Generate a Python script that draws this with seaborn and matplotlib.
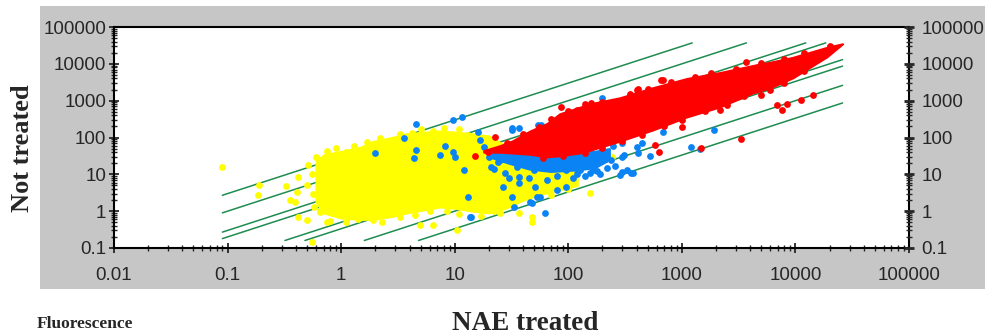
import numpy as np
import pandas as pd
import matplotlib
matplotlib.use("Agg")
import matplotlib.pyplot as plt
import seaborn as sns
from matplotlib.patches import Rectangle
from matplotlib.ticker import LogLocator, NullFormatter

# ---------------------------------------------------------------
# Data: fluorescence intensity, NAE treated (x) vs not treated (y)
# ---------------------------------------------------------------

# fold-change guide lines (not treated / NAE treated)
fold_levels = [30, 10, 3, 2, 1 / 2, 1 / 3, 1 / 10, 1 / 30]
guide_x_span = (0.09, 26000)
guide_y_span = (0.16, 37000)

# dense cores of the three intensity classes: x, lower y, upper y
yellow_core_x = [0.6, 0.7, 1.0, 1.5, 1.9, 2.8, 3.8, 5.5, 7.4, 10, 14.5, 20, 28, 40, 60, 90, 120]
yellow_core_lo = [1.8, 0.9, 0.65, 0.6, 0.6, 0.72, 0.9, 1.1, 1.3, 1.2, 1.0, 0.9, 1.2, 2, 3, 4, 5]
yellow_core_hi = [20, 34, 42, 55, 78, 100, 128, 140, 150, 140, 125, 110, 60, 30, 22, 15, 10]

blue_core_x = [20, 30, 45, 70, 110, 170, 230]
blue_core_lo = [30, 20, 14, 12, 13, 15, 25]
blue_core_hi = [45, 45, 40, 36, 38, 42, 50]

red_core_x = [18, 25, 32, 46, 65, 84, 126, 155, 285, 556, 1107, 2162, 4220, 5960, 9490, 18900, 26000]
red_core_lo = [40, 40, 38, 35, 30, 32, 38, 45, 80, 161, 363, 680, 1630, 2220, 4170, 15500, 35000]
red_core_hi = [44, 60, 80, 150, 240, 440, 660, 820, 1200, 2250, 4000, 5800, 9000, 11000, 15000, 28000, 35000]

# individual spots outside / along the edges of the dense cores
yellow_x = [0.089, 0.19, 0.185, 0.33, 0.355, 0.39, 0.42, 0.51, 0.62, 0.41, 0.42, 0.50, 0.55,
            48, 10.5, 4.9, 6.4, 2.7, 1.9, 19, 25, 37, 48, 155, 245, 0.75, 0.65,
            0.6, 0.75, 0.9, 1.1, 1.3, 1.7, 2.2, 2.6, 3.3, 4.2, 5, 6.5, 8, 11, 13, 16,
            0.65, 0.8, 1.1, 1.4, 2.3, 3.3, 4.5, 6, 8.5, 11, 17, 22, 30, 70, 100,
            0.55, 0.5, 0.57, 0.58]
yellow_y = [16, 5.2, 2.75, 4.8, 2.0, 1.8, 8.5, 18, 26, 3.3, 0.7, 0.58, 0.15,
            0.5, 0.31, 0.42, 0.42, 0.9, 0.58, 1.3, 0.9, 0.9, 0.7, 3.1, 30, 0.5, 1.0,
            30, 44, 52, 40, 60, 75, 95, 82, 125, 135, 165, 150, 180, 165, 118, 135,
            0.95, 0.55, 0.5, 0.62, 0.5, 0.68, 0.8, 1.0, 1.0, 0.85, 0.72, 1.0, 1.6, 2.8, 4,
            10, 5, 3, 1.3]

blue_x = [4.6, 3.6, 9.6, 11.5, 2.0, 4.6, 4.4, 7.4, 8.2, 9.6, 10, 16, 16.7, 18, 12, 13, 13.6,
          32, 37, 58, 200, 32, 54, 26.8, 32, 33, 56, 48, 62, 79, 96, 126, 155, 178, 240,
          300, 330, 285, 25, 37, 43, 89, 21, 30, 37, 51, 53, 14, 46, 73, 96, 165, 300, 360,
          680, 1900, 300, 310, 410, 520, 1200, 1450, 370, 250, 200, 400, 450,
          22, 28, 45, 65, 110, 140, 190, 260,
          20, 24, 35, 50, 80, 120, 180, 220, 28, 60, 150]
blue_y = [230, 100, 300, 363, 38, 46, 28, 34, 60, 40, 30, 141, 86, 55, 13, 2.4, 0.7,
          180, 180, 220, 1170, 161, 220, 4.5, 2.4, 1.3, 2.4, 1.7, 0.9, 3.7, 4.5, 13, 11, 20, 25,
          30, 13, 9.6, 25, 8.5, 20, 20, 16, 8.0, 5.8, 4.5, 2.4, 0.7, 1.8, 20, 13, 13, 11.6, 11,
          140, 161, 71, 34, 38, 32, 55, 49, 11, 60, 45, 55, 70,
          14, 11, 8, 7, 8, 9, 10, 17,
          30, 22, 16, 13, 9, 10, 12, 15, 35, 28, 30]

red_x = [87, 120, 160, 410, 15, 19.5, 29, 22.5, 3700, 660, 580, 400, 1000, 2160, 3300,
         1460, 630, 580, 5000, 6900, 7600, 8400, 11300, 14400, 685,
         40, 55, 70, 100, 140, 200, 350, 500, 800, 1300, 1800, 3000, 5000, 8000, 12000, 20000,
         60, 90, 140, 200, 300, 450, 700, 1000, 1600, 2500, 3500, 6000, 8000, 12000]
red_y = [690, 560, 860, 2100, 31, 40, 71, 102, 11300, 3700, 1700, 1950, 190, 560, 90,
         52, 40, 63, 1430, 770, 560, 815, 1050, 1430, 3700,
         125, 190, 320, 520, 820, 900, 1550, 2100, 3300, 4400, 5600, 7300, 10800, 13500, 20000, 30000,
         27, 31, 38, 52, 78, 115, 210, 290, 520, 780, 1350, 1950, 3100, 6200]

x_ticks = [0.01, 0.1, 1, 10, 100, 1000, 10000, 100000]
x_tick_labels = ["0.01", "0.1", "1", "10", "100", "1000", "10000", "100000"]
y_ticks = [0.1, 1, 10, 100, 1000, 10000, 100000]
y_tick_labels = ["0.1", "1", "10", "100", "1000", "10000", "100000"]

# ---------------------------------------------------------------
# Styling
# ---------------------------------------------------------------
sns.set_style("white")
plt.rcParams["font.family"] = ["Liberation Sans", "DejaVu Sans"]

YELLOW = "#ffff00"
BLUE = "#0a84f5"
RED = "#ff0000"
GREEN = "#1e8c50"
PANEL = "#c6c6c6"

W, H = 985, 335
fig = plt.figure(figsize=(W / 100, H / 100), dpi=100)
fig.patch.set_facecolor("white")

# grey chart panel behind the plotting area
fig.add_artist(Rectangle((40 / W, 1 - 289 / H), 1 - 40 / W, (289 - 6) / H,
                         transform=fig.transFigure, facecolor=PANEL,
                         edgecolor="none", zorder=0))

ax = fig.add_axes([114 / W, 1 - 248 / H, (909 - 114) / W, (248 - 27) / H])
ax.set_facecolor("white")
ax.set_xscale("log")
ax.set_yscale("log")
ax.set_xlim(0.01, 100000)
ax.set_ylim(0.1, 100000)

# fold-change guides
rows = []
for f in fold_levels:
    x0 = max(guide_x_span[0], guide_y_span[0] / f)
    x1 = min(guide_x_span[1], guide_y_span[1] / f)
    rows.append({"fold": f, "x": x0, "y": f * x0})
    rows.append({"fold": f, "x": x1, "y": f * x1})
guides = pd.DataFrame(rows)
sns.lineplot(data=guides, x="x", y="y", units="fold", estimator=None, sort=False,
             color=GREEN, linewidth=1.1, ax=ax, zorder=1.5, legend=False)

# intensity classes: dense core + scattered spots
classes = [
    (yellow_core_x, yellow_core_lo, yellow_core_hi, yellow_x, yellow_y, YELLOW, 2),
    (blue_core_x, blue_core_lo, blue_core_hi, blue_x, blue_y, BLUE, 3),
    (red_core_x, red_core_lo, red_core_hi, red_x, red_y, RED, 4),
]
for cx, lo, hi, px, py, col, z in classes:
    ax.fill_between(cx, lo, hi, color=col, linewidth=1.5, edgecolor=col, zorder=z)
    sns.scatterplot(x=px, y=py, color=col, s=24, marker="o", linewidth=0,
                    ax=ax, zorder=z + 0.1, legend=False)

ax.set_xlabel("")
ax.set_ylabel("")

# axes frame
for side in ["top", "bottom", "left", "right"]:
    ax.spines[side].set_visible(True)
    ax.spines[side].set_color("black")
    ax.spines[side].set_linewidth(1.5)

ax.set_xticks(x_ticks, labels=x_tick_labels)
ax.set_yticks(y_ticks, labels=y_tick_labels)
ax.xaxis.set_minor_locator(LogLocator(base=10, subs=np.arange(2, 10), numticks=20))
ax.yaxis.set_minor_locator(LogLocator(base=10, subs=np.arange(2, 10), numticks=20))
ax.xaxis.set_minor_formatter(NullFormatter())
ax.yaxis.set_minor_formatter(NullFormatter())

ax.tick_params(axis="x", which="major", direction="inout", length=7, width=1.3,
               pad=10.5, labelsize=13.5, top=False, bottom=True)
ax.tick_params(axis="x", which="minor", direction="inout", length=5, width=1.0,
               top=False, bottom=True)
ax.tick_params(axis="y", which="major", direction="inout", length=7, width=1.3,
               pad=2, labelsize=13.5, left=True, right=False)
ax.tick_params(axis="y", which="minor", direction="inout", length=5, width=1.0,
               left=True, right=False)

# mirrored value axis on the right
ax2 = ax.twinx()
ax2.set_yscale("log")
ax2.set_ylim(ax.get_ylim())
ax2.set_yticks(y_ticks, labels=y_tick_labels)
ax2.yaxis.set_minor_locator(LogLocator(base=10, subs=np.arange(2, 10), numticks=20))
ax2.yaxis.set_minor_formatter(NullFormatter())
ax2.tick_params(axis="y", which="major", direction="inout", length=7, width=2.0,
                pad=5.5, labelsize=13.5)
ax2.tick_params(axis="y", which="minor", direction="inout", length=5, width=1.0)
for side in ax2.spines:
    ax2.spines[side].set_visible(False)

# titles
serif = ["Liberation Serif", "DejaVu Serif"]
fig.text(23 / W, 1 - 148 / H, "Not treated", rotation=90, ha="center", va="center",
         fontsize=19, fontweight="bold", family=serif)
fig.text(525 / W, 1 - 330 / H, "NAE treated", ha="center", va="baseline",
         fontsize=19.5, fontweight="bold", family=serif)
fig.text(37 / W, 1 - 328 / H, "Fluorescence", ha="left", va="baseline",
         fontsize=12.5, fontweight="bold", family=serif)

fig.savefig("out.png", dpi=100, facecolor="white")
